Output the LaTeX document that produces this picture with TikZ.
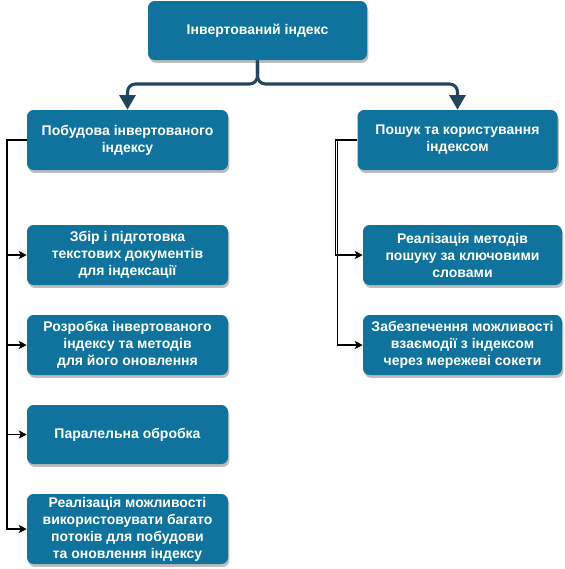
\documentclass[tikz,border=0pt]{standalone}
\usepackage{fontspec}
\setmainfont{Liberation Sans}
\usetikzlibrary{arrows.meta,shadows}
\definecolor{boxblue}{HTML}{10739E}
\definecolor{arrowblue}{HTML}{23445D}
\definecolor{shadowgray}{HTML}{BDBDBD}
\begin{document}
\begin{tikzpicture}[x=0.75pt,y=-0.75pt,
  box/.style={draw=none, fill=boxblue, rounded corners=5pt, text=white,
    font=\bfseries\fontsize{10.5pt}{12.75pt}\selectfont, align=center,
    inner sep=0pt, drop shadow={shadow xshift=1pt, shadow yshift=-2.2pt, fill=shadowgray, opacity=1}},
  toparrow/.style={draw=arrowblue, line width=2.3pt, rounded corners=6pt,
    -{Triangle[width=12pt,length=11pt]}},
  conn/.style={draw=black, line width=0.8pt, -{Stealth[length=6pt,width=6pt,inset=1.5pt]}}
]
\useasboundingbox (0,0) rectangle (565,569);
\node[box, minimum width=219*0.75pt, minimum height=59*0.75pt] (top) at (257.5,30.5) {Інвертований індекс};
\node[box, minimum width=201*0.75pt, minimum height=60*0.75pt] (L0) at (127.5,140) {Побудова інвертованого\\індексу};
\node[box, minimum width=200*0.75pt, minimum height=60*0.75pt] (R0) at (457.5,140) {Пошук та користування\\індексом};
\node[box, minimum width=201*0.75pt, minimum height=60*0.75pt] (L1) at (127.5,255) {Збір і підготовка\\текстових документів\\для індексації};
\node[box, minimum width=201*0.75pt, minimum height=60*0.75pt] (L2) at (127.5,345) {Розробка інвертованого\\індексу та методів\\для його оновлення};
\node[box, minimum width=201*0.75pt, minimum height=59*0.75pt] (L3) at (127.5,434.5) {Паралельна обробка};
\node[box, minimum width=201*0.75pt, minimum height=70*0.75pt] (L4) at (127.5,529) {Реалізація можливості\\використовувати багато\\потоків для побудови\\та оновлення індексу};
\node[box, minimum width=199*0.75pt, minimum height=60*0.75pt] (R1) at (462.5,255) {Реалізація методів\\пошуку за ключовими\\словами};
\node[box, minimum width=199*0.75pt, minimum height=60*0.75pt] (R2) at (462.5,345) {Забезпечення можливості\\взаємодії з індексом\\через мережеві сокети};
\coordinate (split) at (257.5,84);
\draw[toparrow] (top.south) -- (split) -| (L0.north);
\draw[toparrow] (top.south) -- (split) -| (R0.north);
\coordinate (lbus) at (7,140);
\foreach \n in {L1,L2,L3,L4} \draw[conn] (L0.west) -- (lbus) |- (\n.west);
\coordinate (rbusa) at (335.5,140);
\coordinate (rbusb) at (337.5,140);
\draw[conn] (R0.west) -- (rbusa) |- (R1.west);
\draw[conn] (R0.west) -- (rbusb) |- (R2.west);
\end{tikzpicture}
\end{document}
